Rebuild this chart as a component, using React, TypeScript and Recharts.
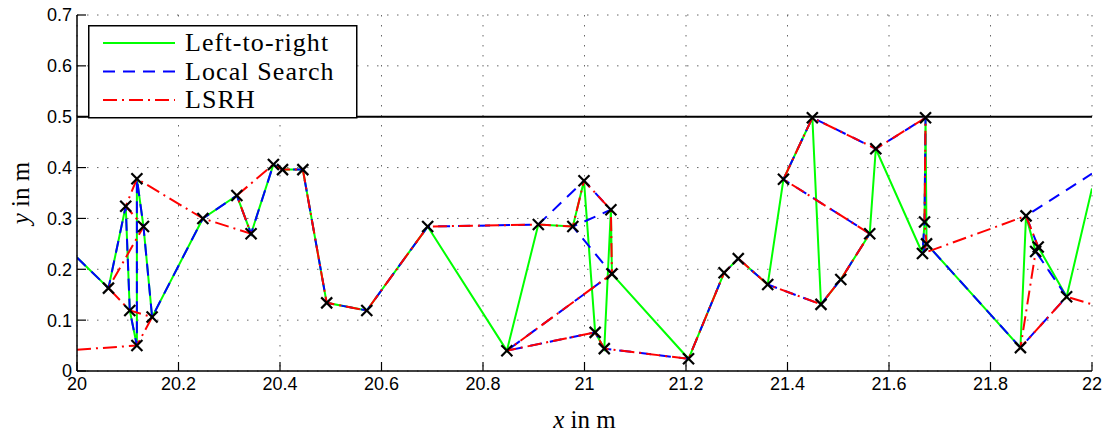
import React from 'react';
import { ComposedChart, Line, XAxis, YAxis, CartesianGrid, ReferenceLine, Legend } from 'recharts';

// Waypoint coordinates (x in m, y in m), indexed left-to-right
const pointX = [
  20.062, 20.096, 20.104, 20.118, 20.118, 20.131, 20.148, 20.248, 20.315, 20.343,
  20.387, 20.405, 20.445, 20.492, 20.571, 20.691, 20.847, 20.909, 20.977, 20.999,
  21.021, 21.039, 21.052, 21.054, 21.205, 21.275, 21.303, 21.361, 21.392, 21.449,
  21.466, 21.505, 21.562, 21.574, 21.666, 21.670, 21.672, 21.674, 21.859, 21.870,
  21.889, 21.894, 21.950,
];
const pointY = [
  0.163, 0.324, 0.119, 0.050, 0.378, 0.284, 0.106, 0.300, 0.345, 0.270,
  0.406, 0.396, 0.396, 0.134, 0.119, 0.284, 0.040, 0.288, 0.284, 0.374,
  0.076, 0.044, 0.317, 0.191, 0.024, 0.193, 0.221, 0.170, 0.377, 0.498,
  0.131, 0.180, 0.270, 0.437, 0.231, 0.293, 0.498, 0.250, 0.046, 0.305,
  0.235, 0.244, 0.146,
];

// Visiting orders (indexes into the point arrays)
const leftToRightOrder = [
  0, 1, 2, 3, 4, 5, 6, 7, 8, 9, 10, 11, 12, 13, 14, 15, 16, 17, 18, 19, 20,
  21, 22, 23, 24, 25, 26, 27, 28, 29, 30, 31, 32, 33, 34, 35, 36, 37, 38, 39,
  40, 41, 42,
];
const localSearchOrder = [
  0, 1, 2, 3, 4, 5, 6, 7, 8, 9, 10, 11, 12, 13, 14, 15, 17, 19, 22, 18, 23,
  16, 20, 21, 24, 25, 26, 27, 30, 31, 32, 28, 29, 33, 36, 35, 34, 37, 38, 42,
  40, 41, 39,
];
const lsrhOrder = [
  3, 6, 2, 0, 5, 1, 4, 7, 9, 8, 10, 11, 12, 13, 14, 15, 17, 18, 19, 22, 23,
  16, 20, 21, 24, 25, 26, 27, 30, 31, 32, 28, 29, 33, 36, 35, 37, 34, 39, 41,
  40, 38, 42,
];

// Where each path enters / leaves the visible window (x, y)
const leftToRightEnds = [[20, 0.223], [22, 0.359]];
const localSearchEnds = [[20, 0.223], [22, 0.388]];
const lsrhEnds = [[20, 0.042], [22, 0.131]];

const xTicks = [20, 20.2, 20.4, 20.6, 20.8, 21, 21.2, 21.4, 21.6, 21.8, 22];
const yTicks = [0, 0.1, 0.2, 0.3, 0.4, 0.5, 0.6, 0.7];
const limitY = 0.5;

const seriesNames = ['Left-to-right', 'Local Search', 'LSRH'];
const seriesColors = ['#00ff00', '#0000ff', '#ff0000'];
const seriesDash = ['', '12 8', '14 5 2 5'];

const buildPath = (order: number[], ends: number[][]) => [
  { x: ends[0][0], y: ends[0][1] },
  ...order.map((i) => ({ x: pointX[i], y: pointY[i] })),
  { x: ends[1][0], y: ends[1][1] },
];

const paths = [
  buildPath(leftToRightOrder, leftToRightEnds),
  buildPath(localSearchOrder, localSearchEnds),
  buildPath(lsrhOrder, lsrhEnds),
];
const markers = pointX.map((x, i) => ({ x, y: pointY[i] }));

const fmt = (v: number) => String(Number(v.toFixed(1)));

const XMark = (props: any) => {
  const { cx, cy } = props;
  if (cx == null || cy == null) return <g />;
  const s = 5.5;
  return (
    <g stroke="#000" strokeWidth={2.2}>
      <line x1={cx - s} y1={cy - s} x2={cx + s} y2={cy + s} />
      <line x1={cx - s} y1={cy + s} x2={cx + s} y2={cy - s} />
    </g>
  );
};

const LegendBox = () => (
  <svg width={270} height={94} style={{ display: 'block' }}>
    <rect x={0.75} y={0.75} width={268} height={92} fill="#fff" stroke="#000" strokeWidth={1.5} />
    {seriesNames.map((name, i) => {
      const cy = 18 + i * 28.5;
      return (
        <g key={name}>
          <line x1={15} x2={87} y1={cy} y2={cy} stroke={seriesColors[i]} strokeWidth={2}
            strokeDasharray={seriesDash[i] || undefined} />
          <text x={97} y={cy + 8} fontFamily="'Liberation Serif', serif" fontSize={26}
            letterSpacing={1.1} fill="#000">{name}</text>
        </g>
      );
    })}
  </svg>
);

const XLabel = (props: any) => {
  const vb = props.viewBox;
  const cx = vb.x + vb.width / 2;
  return (
    <text x={cx} y={vb.y + 57} textAnchor="middle" fontFamily="'Liberation Serif', serif" fontSize={25} fill="#000">
      <tspan fontStyle="italic">x</tspan>
      <tspan> in m</tspan>
    </text>
  );
};

const YLabel = (props: any) => {
  const vb = props.viewBox;
  const cy = vb.y + vb.height / 2;
  const x = 21;
  return (
    <text x={x} y={cy} textAnchor="middle" transform={`rotate(-90, ${x}, ${cy})`}
      fontFamily="'Liberation Serif', serif" fontSize={25} fill="#000">
      <tspan fontStyle="italic">y</tspan>
      <tspan> in m</tspan>
    </text>
  );
};

const tickStyle = { fontSize: 18, fill: '#000', fontFamily: "'Liberation Sans', Arial, sans-serif" };

export default function App() {
  return (
    <ComposedChart width={1100} height={430} margin={{ top: 7, right: 16, bottom: 0, left: 0 }}>
      <CartesianGrid stroke="#666" strokeDasharray="1.5 8.5" strokeWidth={1} />
      <XAxis
        dataKey="x"
        type="number"
        domain={[20, 22]}
        ticks={xTicks}
        interval={0}
        allowDataOverflow
        tickFormatter={fmt}
        height={67}
        tickSize={-9}
        tickMargin={15}
        axisLine={{ stroke: '#000', strokeWidth: 1.5 }}
        tickLine={{ stroke: '#000', strokeWidth: 1.2 }}
        tick={tickStyle}
        label={<XLabel />}
      />
      <YAxis
        dataKey="y"
        type="number"
        domain={[0, 0.7]}
        ticks={yTicks}
        interval={0}
        allowDataOverflow
        tickFormatter={fmt}
        width={69}
        tickSize={-9}
        tickMargin={14}
        axisLine={{ stroke: '#000', strokeWidth: 1.5 }}
        tickLine={{ stroke: '#000', strokeWidth: 1.2 }}
        tick={tickStyle}
        label={<YLabel />}
      />
      <ReferenceLine y={limitY} stroke="#000" strokeWidth={2} ifOverflow="hidden" />
      {paths.map((d, i) => (
        <Line
          key={seriesNames[i]}
          name={seriesNames[i]}
          data={d}
          dataKey="y"
          type="linear"
          stroke={seriesColors[i]}
          strokeWidth={2}
          strokeDasharray={seriesDash[i] || undefined}
          dot={false}
          activeDot={false}
          isAnimationActive={false}
        />
      ))}
      <Line
        data={markers}
        dataKey="y"
        stroke="none"
        legendType="none"
        dot={<XMark />}
        activeDot={false}
        isAnimationActive={false}
      />
      <Legend
        layout="vertical"
        align="center"
        verticalAlign="middle"
        wrapperStyle={{ left: 80, top: 17, width: 270, height: 94 }}
        content={() => <LegendBox />}
      />
    </ComposedChart>
  );
}
